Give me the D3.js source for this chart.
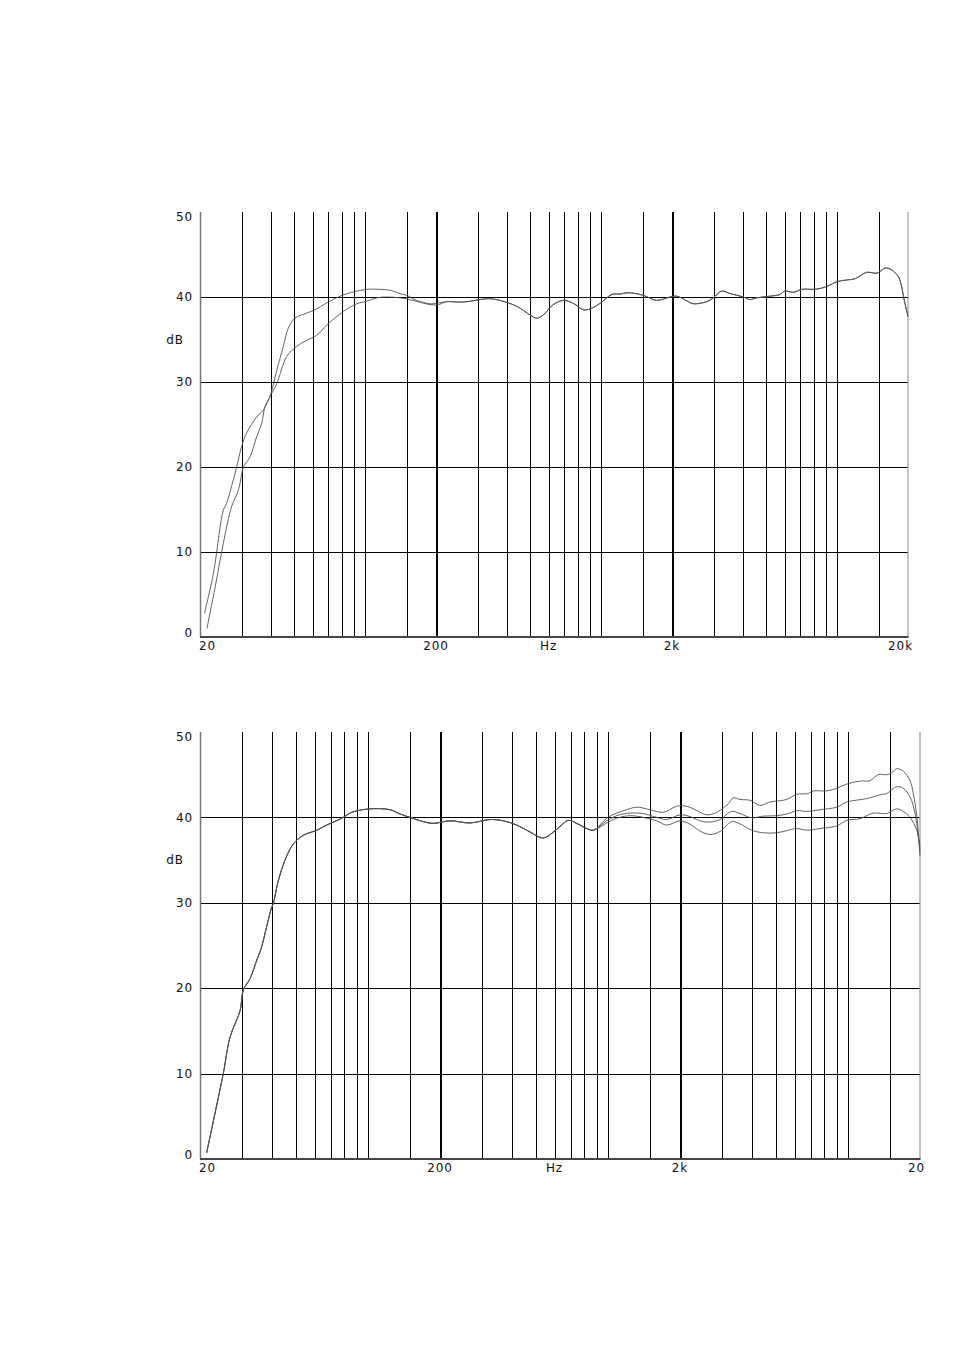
<!DOCTYPE html>
<html>
<head>
<meta charset="utf-8">
<script src="https://cdn.jsdelivr.net/npm/d3@7"></script>
<style>
  html, body { margin: 0; padding: 0; background: #fff; }
  svg { display: block; }
  text { font-family: "DejaVu Sans", sans-serif; font-size: 12px; fill: #111; letter-spacing: 0.9px; }
</style>
</head>
<body>
<script>
// ---------- data (frequency in Hz, level in dB) ----------
const dbTicks = [0, 10, 20, 30, 40, 50];
const dbGrid = [10, 20, 30, 40];
const gridFreqs = [30, 40, 50, 60, 70, 80, 90, 100, 150, 200,
                   300, 400, 500, 600, 700, 800, 900, 1000, 1500, 2000,
                   3000, 4000, 5000, 6000, 7000, 8000, 9000, 10000, 15000];
const thickFreqs = [200, 2000];
const xLabelFreqs = [20, 200, 600, 2000, 20000];
const xLabelsTop = ["20", "200", "Hz", "2k", "20k"];
const xLabelsBottom = ["20", "200", "Hz", "2k", "20"];
const yAxisTitle = "dB";

// Top chart – curve 1 bass part (the one that is higher from 40 to 200 Hz)
const topCurve1Bass = [
  [21.4, 1.0], [23.2, 5.9], [25.1, 11.0], [27.2, 15.3], [29.1, 17.3], [30.2, 19.5],
  [30.7, 20.1], [32.6, 21.2], [34.8, 23.6], [36.5, 25.1], [37.7, 27.1], [39.6, 28.3],
  [42.3, 31.4], [45.1, 34.2], [47.3, 36.3], [50.5, 37.5], [56.6, 38.1], [61.4, 38.5],
  [68.9, 39.3], [78.4, 40.1], [89.3, 40.6], [101.7, 40.9], [115.8, 40.9], [127.6, 40.8],
  [140.8, 40.4], [150, 40.2], [165.6, 39.6], [188.7, 39.2], [204.6, 39.3]
];
// Top chart – curve 2 bass part (higher below 27 Hz, lower from 40 to 200 Hz)
const topCurve2Bass = [
  [20.9, 2.8], [22.8, 7.5], [25.1, 14.9], [25.9, 15.7], [27.2, 17.7], [28.6, 20.0],
  [30.0, 22.4], [31.5, 24.0], [34.8, 25.9], [37.1, 26.7], [39.6, 28.3], [42.3, 29.8],
  [46.6, 33.0], [51.4, 34.2], [56.6, 34.9], [62.5, 35.5], [68.9, 36.7], [81, 38.3],
  [92.2, 39.2], [101.7, 39.5], [112, 39.9], [123.6, 40.0], [140.8, 39.9], [160, 39.6],
  [188.7, 39.1], [204.6, 39.1]
];
// Top chart – part shared by both curves
const topCommon = [
  [222, 39.45], [261, 39.4], [333, 39.8], [373, 39.6], [440, 38.9], [500, 37.9],
  [535, 37.5], [570, 37.9], [628, 39.1], [693, 39.6], [764, 39.25], [842, 38.5],
  [899, 38.6], [991, 39.25], [1112, 40.3], [1205, 40.35], [1306, 40.5], [1512, 40.2],
  [1722, 39.6], [1962, 40.0], [2094, 40.1], [2346, 39.45], [2462, 39.2], [2806, 39.45],
  [2993, 39.9], [3249, 40.7], [3524, 40.4], [4013, 40.0], [4282, 39.7], [4570, 39.9],
  [5038, 40.05], [5554, 40.2], [5738, 40.3], [6024, 40.7], [6532, 40.55], [7090, 40.9],
  [7943, 40.9], [8476, 41.0], [9188, 41.3], [9977, 41.8], [10996, 42.0], [11920, 42.15],
  [13360, 42.9], [14720, 42.8], [15200, 43.0], [15980, 43.4], [16790, 43.3], [18200, 42.4],
  [18800, 41.2], [19290, 39.6], [20000, 37.7]
];

// Bottom chart – shared low/mid part
const bottomCommon = [
  [21.3, 0.7], [25.0, 10.0], [26.7, 14.3], [29.4, 17.4], [30.3, 19.8], [32.3, 21.1],
  [34.5, 23.3], [36.1, 24.8], [37.9, 27.2], [39.8, 29.5], [40.4, 29.9], [42.4, 32.6],
  [45.2, 35.0], [49.0, 36.9], [53.9, 37.9], [61.3, 38.5], [67.4, 39.1], [77.9, 39.9],
  [85.8, 40.6], [102.2, 41.0], [123.8, 40.9], [136.2, 40.4], [150, 40.0], [170.6, 39.5],
  [187.6, 39.3], [220, 39.6], [267, 39.35], [323, 39.75], [367, 39.6], [418, 39.1],
  [474, 38.3], [539, 37.6], [613, 38.6], [685, 39.65], [742, 39.3], [817, 38.7], [871, 38.5]
];
const bottomUpper = [
  [871, 38.5], [990, 39.9], [1089, 40.5], [1199, 40.9], [1320, 41.2], [1500, 40.9],
  [1704, 40.6], [1937, 41.3], [2133, 41.3], [2350, 40.8], [2584, 40.3], [2845, 40.6],
  [3179, 41.6], [3336, 42.3], [3557, 42.1], [3916, 42.0], [4309, 41.4], [4743, 41.8],
  [5568, 42.1], [6125, 42.7], [6852, 42.8], [7185, 43.1], [8172, 43.1], [8991, 43.4],
  [9899, 43.9], [11247, 44.25], [12381, 44.3], [13393, 45.0], [14523, 45.0], [15234, 45.2],
  [15984, 45.7], [17042, 45.4], [18169, 44.3], [18760, 42.8], [19373, 40.3], [19675, 38.3],
  [20000, 35.5]
];
const bottomMiddle = [
  [871, 38.5], [990, 39.6], [1089, 40.2], [1238, 40.5], [1406, 40.45], [1600, 40.0],
  [1760, 39.75], [2000, 40.3], [2203, 40.1], [2424, 39.6], [2667, 39.45], [2937, 39.75],
  [3283, 40.7], [3557, 40.45], [3980, 39.95], [4447, 40.15], [5058, 40.2], [5654, 40.45],
  [6125, 40.8], [6745, 40.7], [7663, 40.9], [8991, 41.2], [9899, 41.8], [11994, 42.2],
  [13616, 42.65], [14523, 42.8], [15984, 43.6], [17042, 43.4], [18169, 42.4], [19066, 40.45],
  [20000, 36.0]
];
const bottomLower = [
  [871, 38.3], [990, 39.35], [1089, 39.9], [1238, 40.2], [1406, 40.0], [1600, 39.6],
  [1760, 39.1], [2000, 39.6], [2203, 39.2], [2424, 38.4], [2667, 38.0], [2937, 38.35],
  [3283, 39.5], [3557, 39.25], [3980, 38.5], [4447, 38.2], [5058, 38.2], [5654, 38.5],
  [6125, 38.7], [6745, 38.5], [7663, 38.7], [8991, 39.0], [9899, 39.65], [11247, 39.85],
  [12773, 40.5], [14523, 40.45], [15984, 41.0], [17042, 40.7], [18169, 40.0], [19373, 38.5],
  [20000, 36.5]
];

// ---------- drawing ----------
const svg = d3.select("body").append("svg").attr("width", 954).attr("height", 1351);

function drawChart(box, series, xLabels) {
  const x = d3.scaleLog().domain([20, 20000]).range([box.left, box.right]);
  const y = d3.scaleLinear().domain([0, 50]).range([box.bottom, box.top]);
  const g = svg.append("g");

  // vertical grid
  g.selectAll("line.vg").data(gridFreqs).join("line")
    .attr("x1", d => Math.round(x(d)) + 0.5).attr("x2", d => Math.round(x(d)) + 0.5)
    .attr("y1", box.top).attr("y2", box.bottom)
    .attr("stroke", "#000")
    .attr("stroke-width", d => thickFreqs.includes(d) ? 2 : 1)
    .attr("shape-rendering", "crispEdges");
  // horizontal grid
  g.selectAll("line.hg").data(dbGrid).join("line")
    .attr("x1", box.left).attr("x2", box.right)
    .attr("y1", d => Math.round(y(d)) + 0.5).attr("y2", d => Math.round(y(d)) + 0.5)
    .attr("stroke", "#000").attr("stroke-width", 1)
    .attr("shape-rendering", "crispEdges");
  // frame: left, right, bottom (no top line)
  g.append("line").attr("x1", box.left + 0.5).attr("x2", box.left + 0.5)
    .attr("y1", box.top).attr("y2", box.bottom)
    .attr("stroke", "#777").attr("stroke-width", 1.5);
  g.append("line").attr("x1", box.right).attr("x2", box.right)
    .attr("y1", box.top).attr("y2", box.bottom)
    .attr("stroke", "#999").attr("stroke-width", 1.2);
  g.append("line").attr("x1", box.left).attr("x2", box.right + 0.5)
    .attr("y1", box.bottom).attr("y2", box.bottom)
    .attr("stroke", "#444").attr("stroke-width", 2);

  // curves
  const line = d3.line().x(d => x(d[0])).y(d => y(d[1])).curve(d3.curveCatmullRom.alpha(0.5));
  g.selectAll("path.curve").data(series).join("path")
    .attr("d", line).attr("fill", "none")
    .attr("stroke", "#505050").attr("stroke-width", 0.9);

  // y labels
  g.selectAll("text.yl").data(dbTicks).join("text")
    .attr("x", box.left - 7)
    .attr("y", d => y(d) + (d === 50 ? 5 : d === 0 ? -4 : 0))
    .attr("dy", "0.35em").attr("text-anchor", "end")
    .text(d => d);
  g.append("text").attr("x", box.left - 25).attr("y", y(35)).attr("dy", "0.35em")
    .attr("text-anchor", "middle").text(yAxisTitle);

  // x labels
  g.selectAll("text.xl").data(xLabelFreqs).join("text")
    .attr("x", (d, i) => i === 0 ? box.left - 1 : i === xLabelFreqs.length - 1 ? box.right + 5 : x(d))
    .attr("y", box.bottom + 9).attr("dy", "0.35em")
    .attr("text-anchor", (d, i) => i === 0 ? "start" : i === xLabelFreqs.length - 1 ? "end" : "middle")
    .text((d, i) => xLabels[i]);
}

drawChart({ left: 200, right: 908, top: 212, bottom: 637 },
  [topCurve1Bass.concat(topCommon), topCurve2Bass.concat(topCommon)], xLabelsTop);
drawChart({ left: 200, right: 920, top: 732, bottom: 1159 },
  [bottomCommon.concat(bottomUpper.slice(1)), bottomCommon.concat(bottomMiddle.slice(1)),
   bottomCommon.concat(bottomLower.slice(1))], xLabelsBottom);
</script>
</body>
</html>
